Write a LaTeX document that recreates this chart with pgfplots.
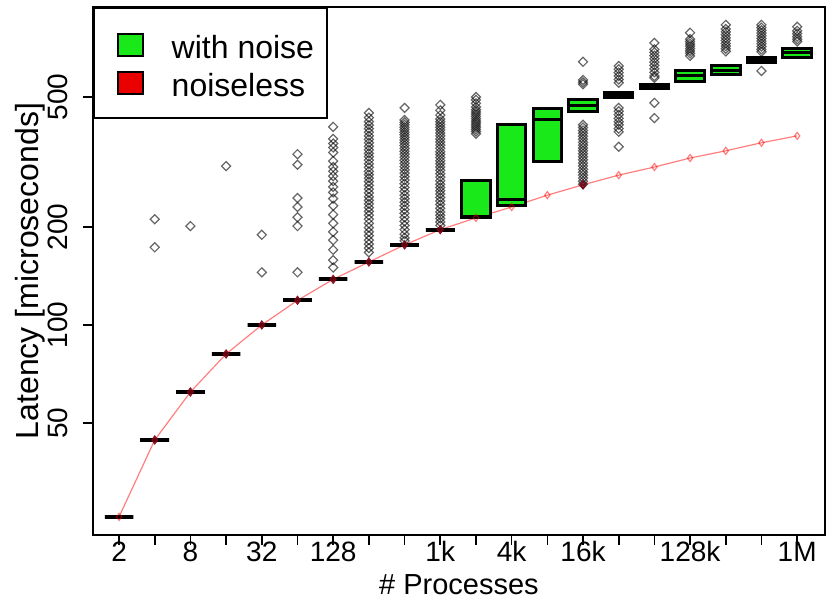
\documentclass[border=0pt]{standalone}
\usepackage{fontspec}
\setmainfont{Liberation Sans}
\usepackage{pgfplots}
\usepackage{pgfplotstable}
\pgfplotsset{compat=1.18}

\definecolor{boxgreen}{RGB}{25,232,25}
\definecolor{boxred}{RGB}{235,0,0}
\definecolor{blobred}{RGB}{115,0,20}

% latency of the noiseless runs, one value per process count
\pgfplotstableread{
pos lat
1 25.8
2 44.4
3 62.3
4 81.5
5 100
6 119
7 138
8 156
9 176
10 196
11 213
12 230
13 250
14 269
15 288
16 305
17 325
18 342
19 362
20 380
}\noiseless

% outliers of the noisy runs
\pgfplotstableread{
pos lat
2 211
2 173
3 201
4 307
5 189
5 145
6 334
6 310
6 245
6 230
6 214
6 201
6 145
7 405
7 372
7 360
7 350
7 338
7 318
7 305
7 296
7 286
7 276
7 265
7 255
7 244
7 232
7 218
7 205
7 193
7 182
7 170
7 158
7 150
8 447
8 432
8 420
8 410
8 400
8 390
8 380
8 371
8 362
8 353
8 344
8 336
8 328
8 320
8 312
8 304
8 296
8 289
8 282
8 275
8 268
8 261
8 254
8 247
8 241
8 235
8 229
8 223
8 217
8 211
8 205
8 199
8 193
8 188
8 182
8 177
8 172
8 167
9 463
9 425
9 418
9 411
9 404
9 397
9 390
9 383
9 376
9 369
9 362
9 355
9 348
9 341
9 334
9 327
9 320
9 313
9 306
9 299
9 292
9 285
9 278
9 271
9 264
9 257
9 250
9 244
9 238
9 232
9 226
9 220
9 214
9 208
9 202
9 196
9 190
9 185
9 181
10 473
10 455
10 440
10 428
10 420
10 412
10 404
10 396
10 388
10 380
10 372
10 364
10 356
10 348
10 340
10 333
10 326
10 319
10 312
10 305
10 298
10 291
10 284
10 277
10 270
10 264
10 258
10 252
10 246
10 240
10 234
10 228
10 222
10 217
10 212
10 207
10 202
11 500
11 490
11 478
11 466
11 457
11 450
11 443
11 436
11 429
11 422
11 416
11 410
11 404
11 398
11 392
11 386
14 641
14 564
14 555
14 547
14 411
14 403
14 395
14 387
14 379
14 371
14 363
14 356
14 349
14 342
14 335
14 328
14 321
14 314
14 307
14 300
14 294
14 288
14 282
14 276
14 270
15 622
15 608
15 594
15 580
15 566
15 553
15 463
15 452
15 441
15 430
15 420
15 411
15 400
15 391
15 352
16 733
16 700
16 685
16 670
16 655
16 640
16 625
16 610
16 595
16 580
16 572
16 480
16 431
17 787
17 752
17 740
17 728
17 716
17 704
17 692
17 680
17 668
18 832
18 808
18 792
18 776
18 760
18 745
18 730
18 716
18 703
18 690
19 832
19 816
19 801
19 786
19 771
19 756
19 742
19 728
19 714
19 700
19 688
19 601
20 821
20 798
20 782
20 766
20 752
20 740
}\outliers

% noisy box: position, lower quartile, median, upper quartile, line width
\newcommand{\noisebox}[5]{%
  \pgfmathsetmacro{\xl}{#1-0.4}\pgfmathsetmacro{\xr}{#1+0.4}%
  \edef\boxcmd{%
    \noexpand\addplot[forget plot, draw=black, fill=boxgreen, line width=#5,
      line join=miter] coordinates {(\xl,#2) (\xr,#2) (\xr,#4) (\xl,#4)} -- cycle;
    \noexpand\addplot[forget plot, draw=black, line width=#5]
      coordinates {(\xl,#3) (\xr,#3)};}%
  \boxcmd
}

\begin{document}
\begin{tikzpicture}
\path[use as bounding box] (-93pt,-65pt) rectangle (738pt,535pt);
\begin{axis}[
  anchor=south west, at={(0pt,0pt)},
  scale only axis, width=732pt, height=528pt,
  xmin=0.27, xmax=20.78,
  ymode=log, ymin=22.7, ymax=944,
  xtick={1,...,20},
  xticklabels={2,,8,,32,,128,,,1k,,4k,,16k,,,128k,,,1M},
  ytick={50,100,200,500},
  yticklabels={50,100,200,500},
  yminorticks=false,
  tick align=outside,
  major tick length=10pt,
  xtick pos=bottom, ytick pos=left,
  tick style={black, line width=1.6pt},
  axis line style={black, line width=2pt},
  ticklabel style={font=\fontsize{28}{30}\selectfont, inner sep=0pt},
  xticklabel style={anchor=base},
  yticklabel style={rotate=90, anchor=base},
  xticklabel shift=17pt,
  yticklabel shift=15pt,
  xlabel={\# Processes},
  ylabel={Latency [microseconds]},
  xlabel style={font=\fontsize{29}{31}\selectfont, inner sep=0pt,
    at={(axis description cs:0.5,-0.1136)}, anchor=base},
  ylabel style={font=\fontsize{32}{34}\selectfont, inner sep=0pt,
    at={(axis description cs:-0.0751,0.5)}, anchor=base},
  legend style={at={(0,1)}, anchor=north west, draw=black, line width=2pt,
    font=\fontsize{32}{34}\selectfont, inner xsep=11pt, inner ysep=15pt,
    row sep=9pt, cells={anchor=west},
    /tikz/every odd column/.append style={column sep=26pt}},
]
% legend swatches
\addlegendimage{legend image code/.code={
  \path (-12pt,24pt);
  \draw[fill=boxgreen, draw=black, line width=1.5pt] (0pt,-8pt) rectangle (25pt,14pt);}}
\addlegendentry{with noise}
\addlegendimage{legend image code/.code={
  \path (-12pt,-16pt);
  \draw[fill=boxred, draw=black, line width=1.5pt] (0pt,-8pt) rectangle (25pt,14pt);}}
\addlegendentry{noiseless}

% noiseless series
\addplot[forget plot, red, opacity=0.5, line width=1.2pt,
  mark=diamond, mark size=3.5pt] table[x=pos, y=lat] {\noiseless};

% noisy runs
\noisebox{1}{25.8}{25.8}{25.8}{4pt}
\noisebox{2}{44.4}{44.4}{44.4}{4pt}
\noisebox{3}{62.3}{62.3}{62.3}{4pt}
\noisebox{4}{81.5}{81.5}{81.5}{4pt}
\noisebox{5}{100}{100}{100}{4pt}
\noisebox{6}{119}{119}{119}{4pt}
\noisebox{7}{138}{138}{138}{4pt}
\noisebox{8}{156}{156}{156}{4pt}
\noisebox{9}{176}{176}{176}{4pt}
\noisebox{10}{196}{196}{196}{4pt}
\noisebox{11}{213}{215}{277}{3pt}
\noisebox{12}{233}{242}{411}{3pt}
\noisebox{13}{316}{428}{460}{3pt}
\noisebox{14}{450}{470}{490}{3pt}
\noisebox{15}{500}{508}{516}{3pt}
\noisebox{16}{530}{537}{545}{3pt}
\noisebox{17}{557}{580}{601}{3pt}
\noisebox{18}{585}{601}{623}{3pt}
\noisebox{19}{640}{650}{660}{3pt}
\noisebox{20}{659}{683}{703}{3pt}

% outliers
\addplot[forget plot, only marks, mark=square, mark size=3.2pt,
  mark options={rotate=45, draw=black, draw opacity=0.6, line width=1.2pt}]
  table[x=pos, y=lat] {\outliers};

% noiseless points hidden under the noisy medians
\addplot[forget plot, only marks, mark=diamond*, mark size=4.5pt,
  mark options={fill=blobred, draw=blobred, opacity=0.8}]
  coordinates {(2,44.4) (3,62.3) (4,81.5) (5,100) (6,119) (7,138)
    (8,156) (9,176) (10,196) (14,269)};
\end{axis}
\end{tikzpicture}
\end{document}
